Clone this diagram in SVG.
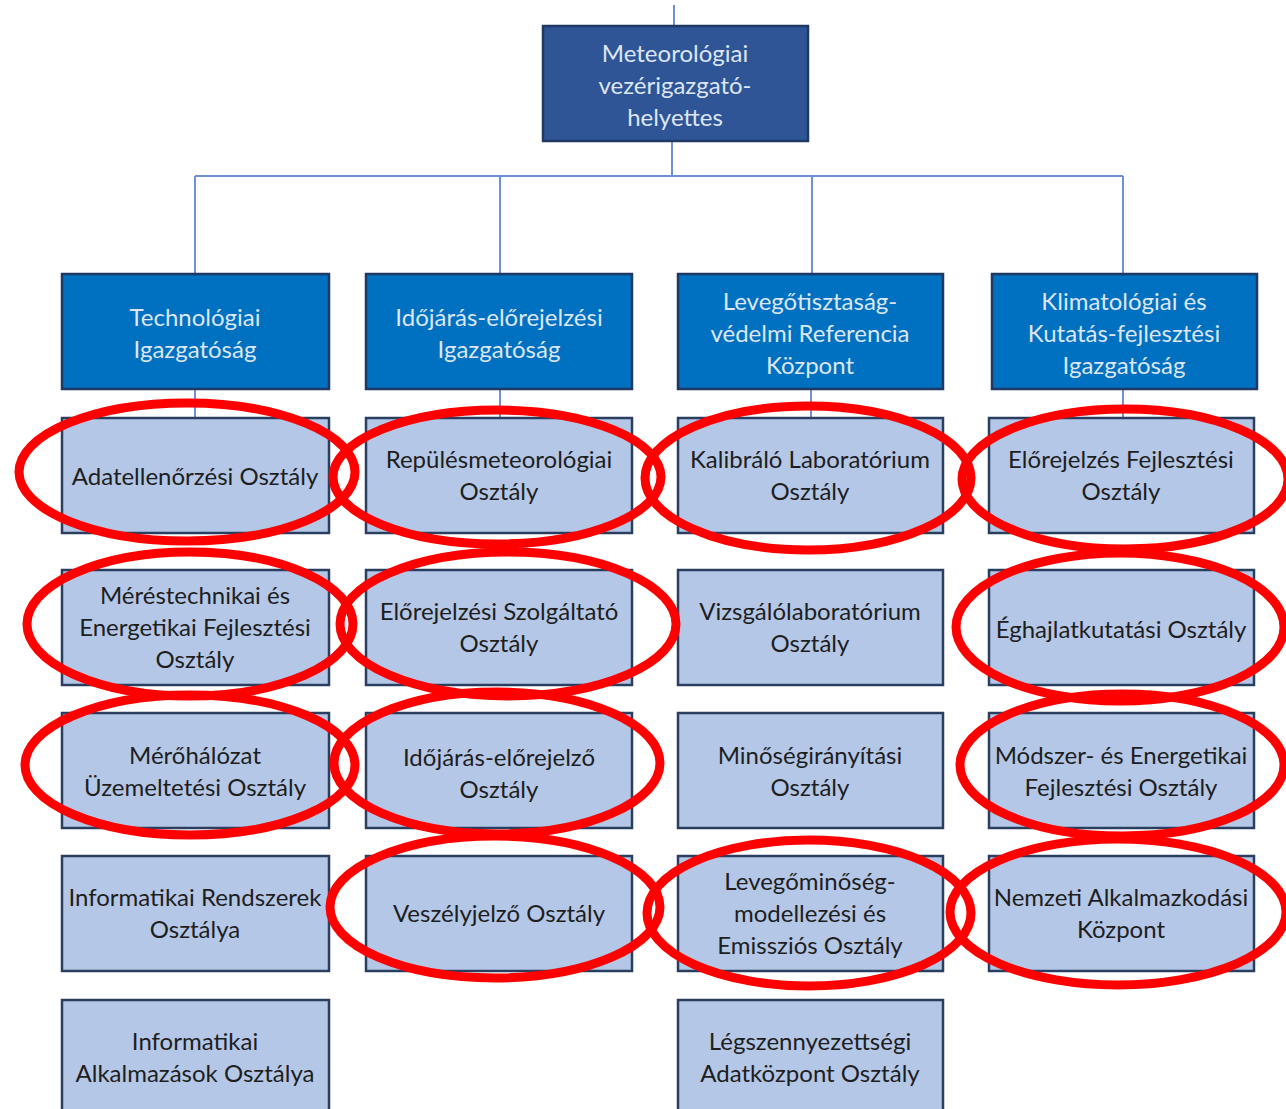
<svg xmlns="http://www.w3.org/2000/svg" width="1286" height="1109" viewBox="0 0 1286 1109">
<style>
.top{fill:#2F5597;stroke:#1F3864;stroke-width:2.5}
.hdr{fill:#0070C0;stroke:#1F3864;stroke-width:2.5}
.sub{fill:#B4C7E7;stroke:#2A3F5F;stroke-width:2.5}
.lt{font-family:Lato,"Open Sans","DejaVu Sans",sans-serif;font-size:24px;fill:#DDE6F4;text-anchor:middle}
.dk{font-family:Lato,"Open Sans","DejaVu Sans",sans-serif;font-size:24px;fill:#1E1E1E;text-anchor:middle}
.con{stroke:#6F90D6;stroke-width:2;fill:none}
.mark{fill:none;stroke:#FF0000;stroke-width:9}
</style>
<rect width="1286" height="1109" fill="#FFFFFF"/>
<g id="connectors">
<path class="con" d="M674 5V26M672 141V176M195 176H1123M195 176V274M500 176V274M812 176V274M1123 176V274M195 389V418M500 389V418M811 389V418M1123 389V418"/>
</g>
<g id="n-top"><rect class="top" x="543" y="26" width="265" height="115"/>
<text class="lt" x="675" y="62">Meteorológiai</text><text class="lt" x="675" y="94">vezérigazgató-</text><text class="lt" x="675" y="126">helyettes</text></g>
<g id="h1"><rect class="hdr" x="62" y="274" width="267" height="115"/>
<text class="lt" x="195" y="326">Technológiai</text><text class="lt" x="195" y="358">Igazgatóság</text></g>
<g id="h2"><rect class="hdr" x="366" y="274" width="266" height="115"/>
<text class="lt" x="499" y="326">Időjárás-előrejelzési</text><text class="lt" x="499" y="358">Igazgatóság</text></g>
<g id="h3"><rect class="hdr" x="678" y="274" width="265" height="115"/>
<text class="lt" x="810" y="310">Levegőtisztaság-</text><text class="lt" x="810" y="342">védelmi Referencia</text><text class="lt" x="810" y="374">Központ</text></g>
<g id="h4"><rect class="hdr" x="992" y="274" width="265" height="115"/>
<text class="lt" x="1124" y="310">Klimatológiai és</text><text class="lt" x="1124" y="342">Kutatás-fejlesztési</text><text class="lt" x="1124" y="374">Igazgatóság</text></g>

<g id="c1r1"><rect class="sub" x="62" y="418" width="267" height="115"/><text class="dk" x="195" y="485">Adatellenőrzési Osztály</text></g>
<g id="c1r2"><rect class="sub" x="62" y="570" width="267" height="115"/><text class="dk" x="195" y="604">Méréstechnikai és</text><text class="dk" x="195" y="636">Energetikai Fejlesztési</text><text class="dk" x="195" y="668">Osztály</text></g>
<g id="c1r3"><rect class="sub" x="62" y="713" width="267" height="115"/><text class="dk" x="195" y="764">Mérőhálózat</text><text class="dk" x="195" y="796">Üzemeltetési Osztály</text></g>
<g id="c1r4"><rect class="sub" x="62" y="856" width="267" height="115"/><text class="dk" x="195" y="906">Informatikai Rendszerek</text><text class="dk" x="195" y="938">Osztálya</text></g>
<g id="c1r5"><rect class="sub" x="62" y="1000" width="267" height="115"/><text class="dk" x="195" y="1050">Informatikai</text><text class="dk" x="195" y="1082">Alkalmazások Osztálya</text></g>

<g id="c2r1"><rect class="sub" x="366" y="418" width="266" height="115"/><text class="dk" x="499" y="468">Repülésmeteorológiai</text><text class="dk" x="499" y="500">Osztály</text></g>
<g id="c2r2"><rect class="sub" x="366" y="570" width="266" height="115"/><text class="dk" x="499" y="620">Előrejelzési Szolgáltató</text><text class="dk" x="499" y="652">Osztály</text></g>
<g id="c2r3"><rect class="sub" x="366" y="713" width="266" height="115"/><text class="dk" x="499" y="766">Időjárás-előrejelző</text><text class="dk" x="499" y="798">Osztály</text></g>
<g id="c2r4"><rect class="sub" x="366" y="856" width="266" height="115"/><text class="dk" x="499" y="922">Veszélyjelző Osztály</text></g>

<g id="c3r1"><rect class="sub" x="678" y="418" width="265" height="115"/><text class="dk" x="810" y="468">Kalibráló Laboratórium</text><text class="dk" x="810" y="500">Osztály</text></g>
<g id="c3r2"><rect class="sub" x="678" y="570" width="265" height="115"/><text class="dk" x="810" y="620">Vizsgálólaboratórium</text><text class="dk" x="810" y="652">Osztály</text></g>
<g id="c3r3"><rect class="sub" x="678" y="713" width="265" height="115"/><text class="dk" x="810" y="764">Minőségirányítási</text><text class="dk" x="810" y="796">Osztály</text></g>
<g id="c3r4"><rect class="sub" x="678" y="856" width="265" height="115"/><text class="dk" x="810" y="890">Levegőminőség-</text><text class="dk" x="810" y="922">modellezési és</text><text class="dk" x="810" y="954">Emissziós Osztály</text></g>
<g id="c3r5"><rect class="sub" x="678" y="1000" width="265" height="115"/><text class="dk" x="810" y="1050">Légszennyezettségi</text><text class="dk" x="810" y="1082">Adatközpont Osztály</text></g>

<g id="c4r1"><rect class="sub" x="989" y="418" width="265" height="115"/><text class="dk" x="1121" y="468">Előrejelzés Fejlesztési</text><text class="dk" x="1121" y="500">Osztály</text></g>
<g id="c4r2"><rect class="sub" x="989" y="570" width="265" height="115"/><text class="dk" x="1121" y="638">Éghajlatkutatási Osztály</text></g>
<g id="c4r3"><rect class="sub" x="989" y="713" width="265" height="115"/><text class="dk" x="1121" y="764">Módszer- és Energetikai</text><text class="dk" x="1121" y="796">Fejlesztési Osztály</text></g>
<g id="c4r4"><rect class="sub" x="989" y="856" width="265" height="115"/><text class="dk" x="1121" y="906">Nemzeti Alkalmazkodási</text><text class="dk" x="1121" y="938">Központ</text></g>

<g id="highlights">
<ellipse class="mark" cx="187" cy="472" rx="168" ry="69"/>
<ellipse class="mark" cx="190" cy="624" rx="163" ry="72"/>
<ellipse class="mark" cx="190" cy="765" rx="165" ry="70"/>
<ellipse class="mark" cx="497" cy="477" rx="164" ry="67"/>
<ellipse class="mark" cx="508" cy="624" rx="168" ry="72"/>
<ellipse class="mark" cx="497" cy="763" rx="163" ry="71"/>
<ellipse class="mark" cx="495" cy="907" rx="165" ry="71"/>
<ellipse class="mark" cx="808" cy="478" rx="163" ry="72"/>
<ellipse class="mark" cx="809" cy="913" rx="162" ry="73"/>
<ellipse class="mark" cx="1125" cy="479" rx="163" ry="70"/>
<ellipse class="mark" cx="1120" cy="627" rx="164" ry="74"/>
<ellipse class="mark" cx="1122" cy="765" rx="162" ry="71"/>
<ellipse class="mark" cx="1118" cy="912" rx="168" ry="73"/>
</g>
</svg>
